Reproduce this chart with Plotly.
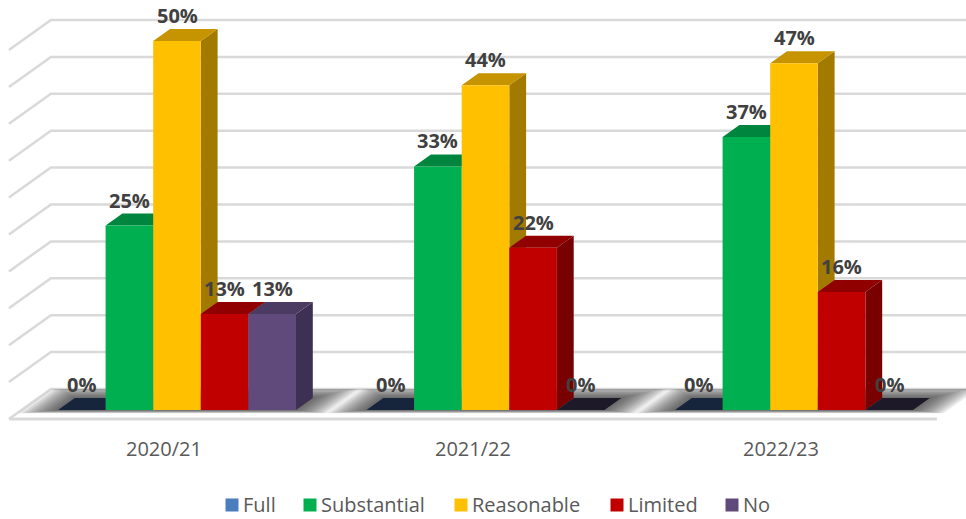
import plotly.graph_objects as go

# ---------------- data ----------------
categories = ["2020/21", "2021/22", "2022/23"]
series_names = ["Full", "Substantial", "Reasonable", "Limited", "No"]
full = [0, 0, 0]
substantial = [25, 33, 37]
reasonable = [50, 44, 47]
limited = [13, 22, 16]
no_assurance = [13, 0, 0]
gridline_values = [0, 5, 10, 15, 20, 25, 30, 35, 40, 45, 50]

series_values = [full, substantial, reasonable, limited, no_assurance]

# ---------------- styles ----------------
front_colors = ["#4A7EBF", "#00B050", "#FFC000", "#C00000", "#604A7B"]
top_colors = ["#2F528F", "#00853E", "#C69400", "#900000", "#4B3A61"]
side_colors = ["#263F6E", "#007033", "#A37A00", "#780000", "#3E3052"]
zero_top_colors = ["#16253B", "#0E2A1B", "#3A2C05", "#2A0A0A", "#1D1928"]
legend_square_px = [232, 310, 461, 617, 732]   # legend layout (pixel centres)
LEGEND_Y_PX = 504

W, H = 966, 519
PX_PER_CAT = 308.5
PX_PER_PCT = 7.38
X0_PX = 177.0
Y0_PX = 389.0
WALL_DX = 42.0 / PX_PER_CAT
WALL_DY = 30.0 / PX_PER_PCT
D_FRONT, D_BACK = 0.3, 0.7
BAR_W = 0.1543
FLOOR_X = (-0.504, 2.504)


def proj(x, h, d):
    """oblique projection of world point (x, height, depth 0..1) to axis coords"""
    return x + (d - D_FRONT) * WALL_DX, h - (1 - d) * WALL_DY


def px_to_data(px, py):
    return (px - X0_PX) / PX_PER_CAT, (Y0_PX - py) / PX_PER_PCT


def poly(pts):
    xs = [p[0] for p in pts] + [pts[0][0]]
    ys = [p[1] for p in pts] + [pts[0][1]]
    return xs, ys


fig = go.Figure()


def add_poly(pts, color, name=None):
    xs, ys = poly(pts)
    fig.add_trace(go.Scatter(
        x=xs, y=ys, fill="toself", fillcolor=color, mode="lines",
        line=dict(width=0, color=color), name=name or "",
        hoverinfo="skip", showlegend=False))


# ----- walls / gridlines -----
xl, xr = FLOOR_X
for t in gridline_values:
    a = proj(xl, t, 0)
    b = proj(xl, t, 1)
    c = proj(xr, t, 1)
    fig.add_trace(go.Scatter(x=[a[0], b[0], c[0]], y=[a[1], b[1], c[1]], mode="lines",
                             line=dict(color="#D9D9D9", width=2.5),
                             hoverinfo="skip", showlegend=False))
a = proj(xl, 0, 0)
b = proj(xr, 0, 0)
fig.add_trace(go.Scatter(x=[a[0], b[0]], y=[a[1], b[1]], mode="lines",
                         line=dict(color="#D9D9D9", width=3),
                         hoverinfo="skip", showlegend=False))

# ----- soft floor shadows -----
n_series = len(series_values)
for i in range(len(categories)):
    gx0 = i - n_series / 2 * BAR_W
    gx1 = i + n_series / 2 * BAR_W
    for j in range(10, 0, -1):
        e = j * 3.5 / PX_PER_CAT
        d0 = D_FRONT - 0.011 * j
        d1 = min(1.0, D_BACK + 0.04 * j)
        pts = [proj(gx0 - e, 0, d0), proj(gx1 + e, 0, d0),
               proj(gx1 + e, 0, d1), proj(gx0 - e, 0, d1)]
        add_poly(pts, "rgba(40,40,40,0.10)")

# ----- 3D bars -----
for k, vals in enumerate(series_values):
    for i, v in enumerate(vals):
        x0 = i + (k - n_series / 2) * BAR_W
        x1 = x0 + BAR_W
        if v == 0:
            add_poly([proj(x0, 0, D_FRONT), proj(x1, 0, D_FRONT),
                      proj(x1, 0, D_BACK), proj(x0, 0, D_BACK)], zero_top_colors[k])
            continue
        add_poly([proj(x1, 0, D_FRONT), proj(x1, 0, D_BACK),
                  proj(x1, v, D_BACK), proj(x1, v, D_FRONT)], side_colors[k])
        add_poly([proj(x0, v, D_FRONT), proj(x1, v, D_FRONT),
                  proj(x1, v, D_BACK), proj(x0, v, D_BACK)], top_colors[k])
        add_poly([proj(x0, 0, D_FRONT), proj(x1, 0, D_FRONT),
                  proj(x1, v, D_FRONT), proj(x0, v, D_FRONT)], front_colors[k],
                 name=series_names[k])

annotations = []
# ----- data labels -----
for k, vals in enumerate(series_values):
    for i, v in enumerate(vals):
        cx = i + (k - n_series / 2 + 0.5) * BAR_W
        _, ty = proj(cx, v, D_BACK)
        annotations.append(dict(
            x=cx, y=ty, text=f"{v}%", showarrow=False, xanchor="center",
            yanchor="bottom", yshift=-2,
            font=dict(family="Open Sans", size=20, color="#404040", weight="bold")))

# ----- category labels -----
for i, c in enumerate(categories):
    lx, ly = proj(i, 0, 0)
    annotations.append(dict(
        x=lx, y=ly - 29 / PX_PER_PCT, text=c, showarrow=False,
        xanchor="center", yanchor="middle",
        font=dict(family="Open Sans", size=20, color="#595959")))

# ----- legend (square swatches + labels) -----
for k, name in enumerate(series_names):
    sx, sy = px_to_data(legend_square_px[k], LEGEND_Y_PX + 1)
    fig.add_trace(go.Scatter(
        x=[sx], y=[sy], mode="markers", name=name,
        marker=dict(symbol="square", size=13, color=front_colors[k], line=dict(width=0)),
        hoverinfo="name", showlegend=False))
    tx, ty = px_to_data(legend_square_px[k] + 9, LEGEND_Y_PX)
    annotations.append(dict(
        x=tx, y=ty, text=name, showarrow=False, xanchor="left", yanchor="middle",
        font=dict(family="Open Sans", size=20, color="#595959")))

fig.update_layout(
    width=W, height=H,
    margin=dict(l=0, r=0, t=0, b=0),
    paper_bgcolor="white", plot_bgcolor="white",
    xaxis=dict(range=[-X0_PX / PX_PER_CAT, (W - X0_PX) / PX_PER_CAT],
               visible=False, fixedrange=True),
    yaxis=dict(range=[(Y0_PX - H) / PX_PER_PCT, Y0_PX / PX_PER_PCT],
               visible=False, fixedrange=True),
    annotations=annotations,
    showlegend=False,
)

fig.write_html("out.html")
